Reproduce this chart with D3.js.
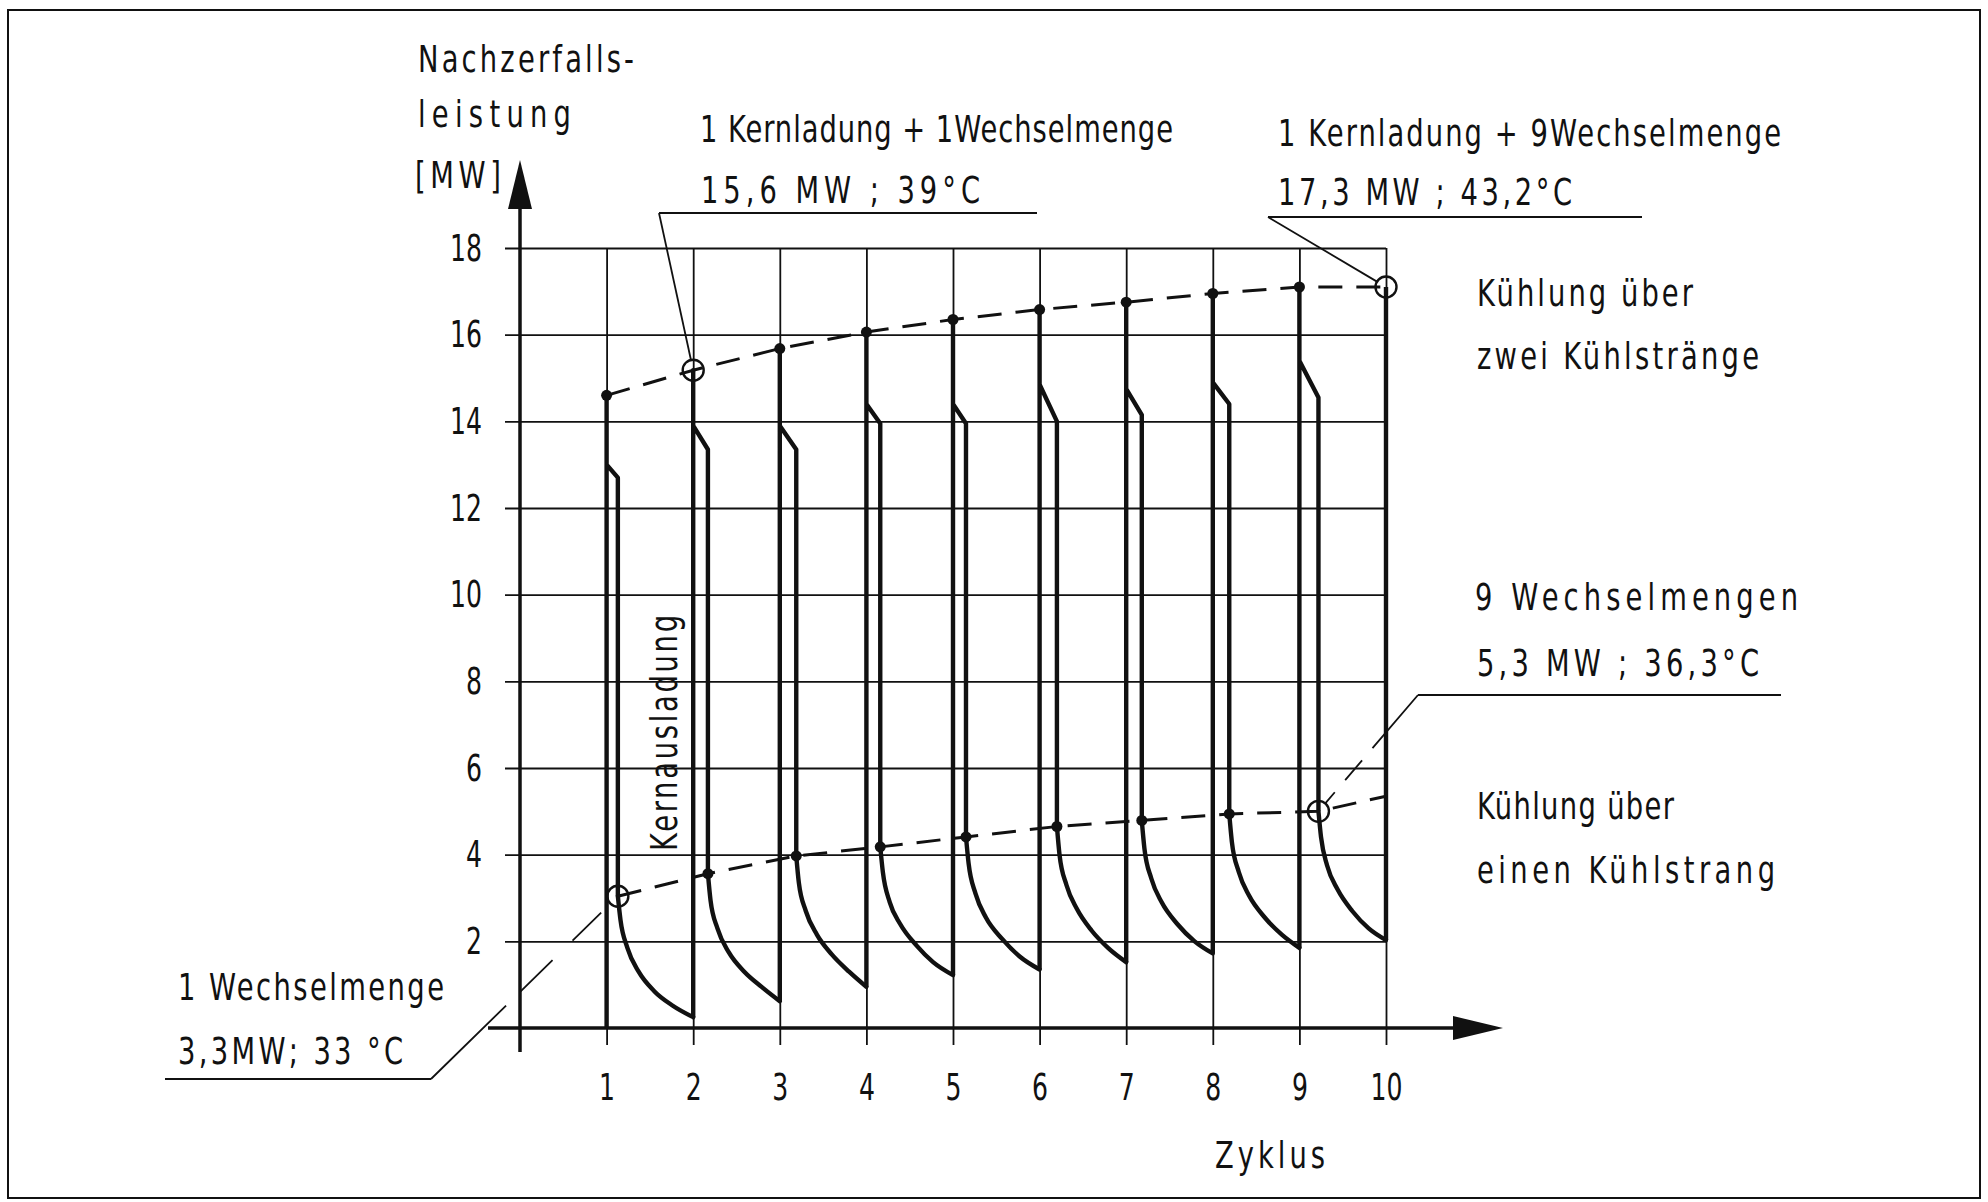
<!DOCTYPE html>
<html>
<head>
<meta charset="utf-8">
<script src="https://cdn.jsdelivr.net/npm/d3@7"></script>
<style>
  html, body { margin: 0; padding: 0; background: #fff; }
  svg { display: block; }
  text { font-family: "Liberation Sans Narrow", "DejaVu Sans Condensed", "Roboto", sans-serif; fill: #111; }
</style>
</head>
<body>
<svg id="chart" width="1988" height="1202"></svg>
<script>
// ---------- data ----------
const xTicks = [1, 2, 3, 4, 5, 6, 7, 8, 9, 10];
const yTicks = [2, 4, 6, 8, 10, 12, 14, 16, 18];
const cycles = [1, 2, 3, 4, 5, 6, 7, 8, 9];
// peak after loading (upper branch, "Kühlung über zwei Kühlstränge")
const peakMW = [14.6, 15.18, 15.68, 16.06, 16.35, 16.58, 16.75, 16.95, 17.1];
const finalPeakMW = 17.1;              // cycle 10
// kink on the upper branch
const kinkMW = [13.0, 13.9, 13.9, 14.4, 14.4, 14.85, 14.75, 14.9, 15.4];
const branchOffset = [0.13, 0.17, 0.19, 0.16, 0.15, 0.2, 0.18, 0.19, 0.22];
const branchTopMW = [12.7, 13.35, 13.35, 13.95, 13.95, 14.0, 14.15, 14.4, 14.55];
// lower branch start ("Kühlung über einen Kühlstrang")
const lowMW = [3.04, 3.56, 3.97, 4.18, 4.41, 4.65, 4.79, 4.94, 5.0];
const lowTrendEndMW = 5.35;            // at cycle 10
// decay curve points after lower branch start
const decayX = [
  [1.16, 1.24, 1.37, 1.55, 1.76, 2.0],
  [2.2, 2.28, 2.41, 2.59, 2.79, 3.0],
  [3.22, 3.3, 3.43, 3.6, 3.8, 4.0],
  [4.19, 4.27, 4.39, 4.58, 4.77, 5.0],
  [5.18, 5.26, 5.38, 5.57, 5.77, 6.0],
  [6.23, 6.31, 6.43, 6.6, 6.79, 7.0],
  [7.21, 7.29, 7.41, 7.59, 7.79, 8.0],
  [8.22, 8.3, 8.42, 8.6, 8.8, 9.0],
  [9.25, 9.32, 9.44, 9.61, 9.8, 10.0]
];
const decayMW = [
  [2.5, 1.85, 1.3, 0.85, 0.52, 0.25],
  [2.95, 2.3, 1.75, 1.3, 0.95, 0.62],
  [3.35, 2.7, 2.15, 1.7, 1.3, 0.95],
  [3.6, 2.9, 2.4, 1.9, 1.52, 1.22],
  [3.8, 3.1, 2.55, 2.05, 1.65, 1.35],
  [4.0, 3.3, 2.75, 2.25, 1.85, 1.52],
  [4.15, 3.45, 2.9, 2.4, 2.0, 1.72],
  [4.3, 3.6, 3.05, 2.55, 2.15, 1.85],
  [4.4, 3.75, 3.2, 2.7, 2.3, 2.03]
];
const openUpper = [2, 10];   // cycles with open circle on upper trend
const openLower = [1, 9];    // cycles with open circle on lower trend

// ---------- layout ----------
const svg = d3.select("#chart");
const x = d3.scaleLinear().domain([0, 10]).range([520, 1386]);
const y = d3.scaleLinear().domain([0, 18]).range([1028, 248]);
const FS = 38;
const SQ = 0.8;   // horizontal glyph squeeze to mimic stencil lettering
const ink = "#111";

// frame
svg.append("rect").attr("x", 8).attr("y", 10).attr("width", 1972).attr("height", 1188)
  .attr("fill", "none").attr("stroke", ink).attr("stroke-width", 2);

// horizontal grid + y tick labels
const yAxis = svg.append("g").attr("transform", `translate(${x(10)},0)`)
  .call(d3.axisLeft(y).tickValues(yTicks).tickSizeInner(x(10) - 505).tickSizeOuter(0).tickPadding(23));
yAxis.select(".domain").remove();
yAxis.selectAll("line").attr("stroke", ink).attr("stroke-width", 1.8);
yAxis.selectAll("text").attr("font-size", FS).attr("font-family", null).attr("fill", ink)
  .attr("textLength", d => d >= 10 ? 32 : 16).attr("lengthAdjust", "spacingAndGlyphs");

// vertical grid + x tick labels
const xAxis = svg.append("g").attr("transform", `translate(0,${y(18)})`)
  .call(d3.axisBottom(x).tickValues(xTicks).tickSizeInner(y(0) + 17 - y(18)).tickSizeOuter(0).tickPadding(28));
xAxis.select(".domain").remove();
xAxis.selectAll("line").attr("stroke", ink).attr("stroke-width", 1.8);
xAxis.selectAll("text").attr("font-size", FS).attr("font-family", null).attr("fill", ink)
  .attr("textLength", d => d >= 10 ? 32 : 16).attr("lengthAdjust", "spacingAndGlyphs");

// axes lines with arrows
svg.append("line").attr("x1", x(0)).attr("x2", x(0)).attr("y1", y(0) + 24).attr("y2", 205)
  .attr("stroke", ink).attr("stroke-width", 3.5);
svg.append("path").attr("d", `M${x(0)},160 L${x(0) - 12},209 L${x(0) + 12},209 Z`).attr("fill", ink);
svg.append("line").attr("x1", 488).attr("x2", 1456).attr("y1", y(0)).attr("y2", y(0))
  .attr("stroke", ink).attr("stroke-width", 3.5);
svg.append("path").attr("d", `M1503,${y(0)} L1453,${y(0) - 12} L1453,${y(0) + 12} Z`).attr("fill", ink);

// ---------- main curves ----------
const lineLin = d3.line().x(d => x(d[0])).y(d => y(d[1]));
const lineDecay = d3.line().x(d => x(d[0])).y(d => y(d[1])).curve(d3.curveMonotoneX);

cycles.forEach((c, i) => {
  const start = i === 0 ? 0 : decayMW[i - 1][decayMW[i - 1].length - 1];
  const bx = c + branchOffset[i];
  svg.append("path").attr("d", lineLin([
      [c, start], [c, peakMW[i]], [c, kinkMW[i]], [bx, branchTopMW[i]], [bx, lowMW[i]]
    ]))
    .attr("fill", "none").attr("stroke", ink).attr("stroke-width", 4.4)
    .attr("stroke-linejoin", "round");
  const pts = [[bx, lowMW[i]]].concat(decayX[i].map((xv, k) => [xv, decayMW[i][k]]));
  svg.append("path").attr("d", lineDecay(pts))
    .attr("fill", "none").attr("stroke", ink).attr("stroke-width", 4.4).attr("stroke-linecap", "round");
});
// final rise at cycle 10
svg.append("path").attr("d", lineLin([[10, decayMW[8][decayMW[8].length - 1]], [10, finalPeakMW]]))
  .attr("fill", "none").attr("stroke", ink).attr("stroke-width", 4.4);

// ---------- trend lines (dashed) ----------
const upperTrend = cycles.map((c, i) => [c, peakMW[i]]).concat([[10, finalPeakMW]]);
const lowerTrend = cycles.map((c, i) => [c + branchOffset[i], lowMW[i]]).concat([[10, lowTrendEndMW]]);
[upperTrend, lowerTrend].forEach(t => {
  svg.append("path").attr("d", lineLin(t)).attr("fill", "none").attr("stroke", ink)
    .attr("stroke-width", 3).attr("stroke-dasharray", "24,14");
});

// ---------- leader lines ----------
const R = 10.5;
function leader(x0, y0, cx, cy, dash) {
  const a = Math.atan2(cy - y0, cx - x0);
  svg.append("line").attr("x1", x0).attr("y1", y0)
    .attr("x2", cx - R * Math.cos(a)).attr("y2", cy - R * Math.sin(a))
    .attr("stroke", ink).attr("stroke-width", 1.8)
    .attr("stroke-dasharray", dash || null);
}
function underline(x1, x2, yy) {
  svg.append("line").attr("x1", x1).attr("x2", x2).attr("y1", yy).attr("y2", yy)
    .attr("stroke", ink).attr("stroke-width", 1.8);
}
underline(659, 1037, 213);
leader(659, 213, x(2), y(peakMW[1]));
underline(1268, 1642, 217);
leader(1268, 217, x(10), y(finalPeakMW));
underline(1418, 1781, 695);
leader(1418, 695, x(9 + branchOffset[8]), y(lowMW[8]), "70,16,26,16,30");
underline(165, 431, 1079);
leader(431, 1079, x(1 + branchOffset[0]), y(lowMW[0]), "105,20,45,28,40");

// ---------- markers ----------
cycles.forEach((c, i) => {
  if (!openUpper.includes(c))
    svg.append("circle").attr("cx", x(c)).attr("cy", y(peakMW[i])).attr("r", 5.5).attr("fill", ink);
  if (!openLower.includes(c))
    svg.append("circle").attr("cx", x(c + branchOffset[i])).attr("cy", y(lowMW[i])).attr("r", 5.5).attr("fill", ink);
});
const openPts = [
  [2, peakMW[1]], [10, finalPeakMW],
  [1 + branchOffset[0], lowMW[0]], [9 + branchOffset[8], lowMW[8]]
];
openPts.forEach(p => {
  svg.append("circle").attr("cx", x(p[0])).attr("cy", y(p[1])).attr("r", R)
    .attr("fill", "none").attr("stroke", ink).attr("stroke-width", 2.4);
});

// ---------- texts ----------
const labels = [
  ["Nachzerfalls-", 418, 72, 216],
  ["leistung", 418, 127, 153],
  ["[MW]", 415, 188, 86],
  ["1  Kernladung + 1Wechselmenge", 700, 142, 473],
  ["15,6  MW ;  39°C", 701, 203, 279],
  ["1  Kernladung + 9Wechselmenge", 1278, 146, 503],
  ["17,3  MW  ; 43,2°C", 1278, 205, 294],
  ["Kühlung über", 1477, 306, 216],
  ["zwei Kühlstränge", 1477, 369, 282],
  ["9 Wechselmengen", 1475, 610, 323],
  ["5,3  MW ; 36,3°C", 1477, 676, 282],
  ["Kühlung über", 1477, 819, 197],
  ["einen Kühlstrang", 1477, 883, 298],
  ["1 Wechselmenge", 178, 1000, 266],
  ["3,3MW;  33 °C", 178, 1064, 225],
  ["Zyklus", 1215, 1168, 110]
];
function squeezedText(str, transform, len) {
  svg.append("g").attr("transform", transform + ` scale(${SQ},1)`)
    .append("text").text(str).attr("x", 0).attr("y", 0)
    .attr("font-size", FS).attr("textLength", len / SQ).attr("lengthAdjust", "spacing");
}
labels.forEach(l => squeezedText(l[0], `translate(${l[1]},${l[2]})`, l[3]));
squeezedText("Kernausladung", "translate(677,851) rotate(-90)", 236);
</script>
</body>
</html>
